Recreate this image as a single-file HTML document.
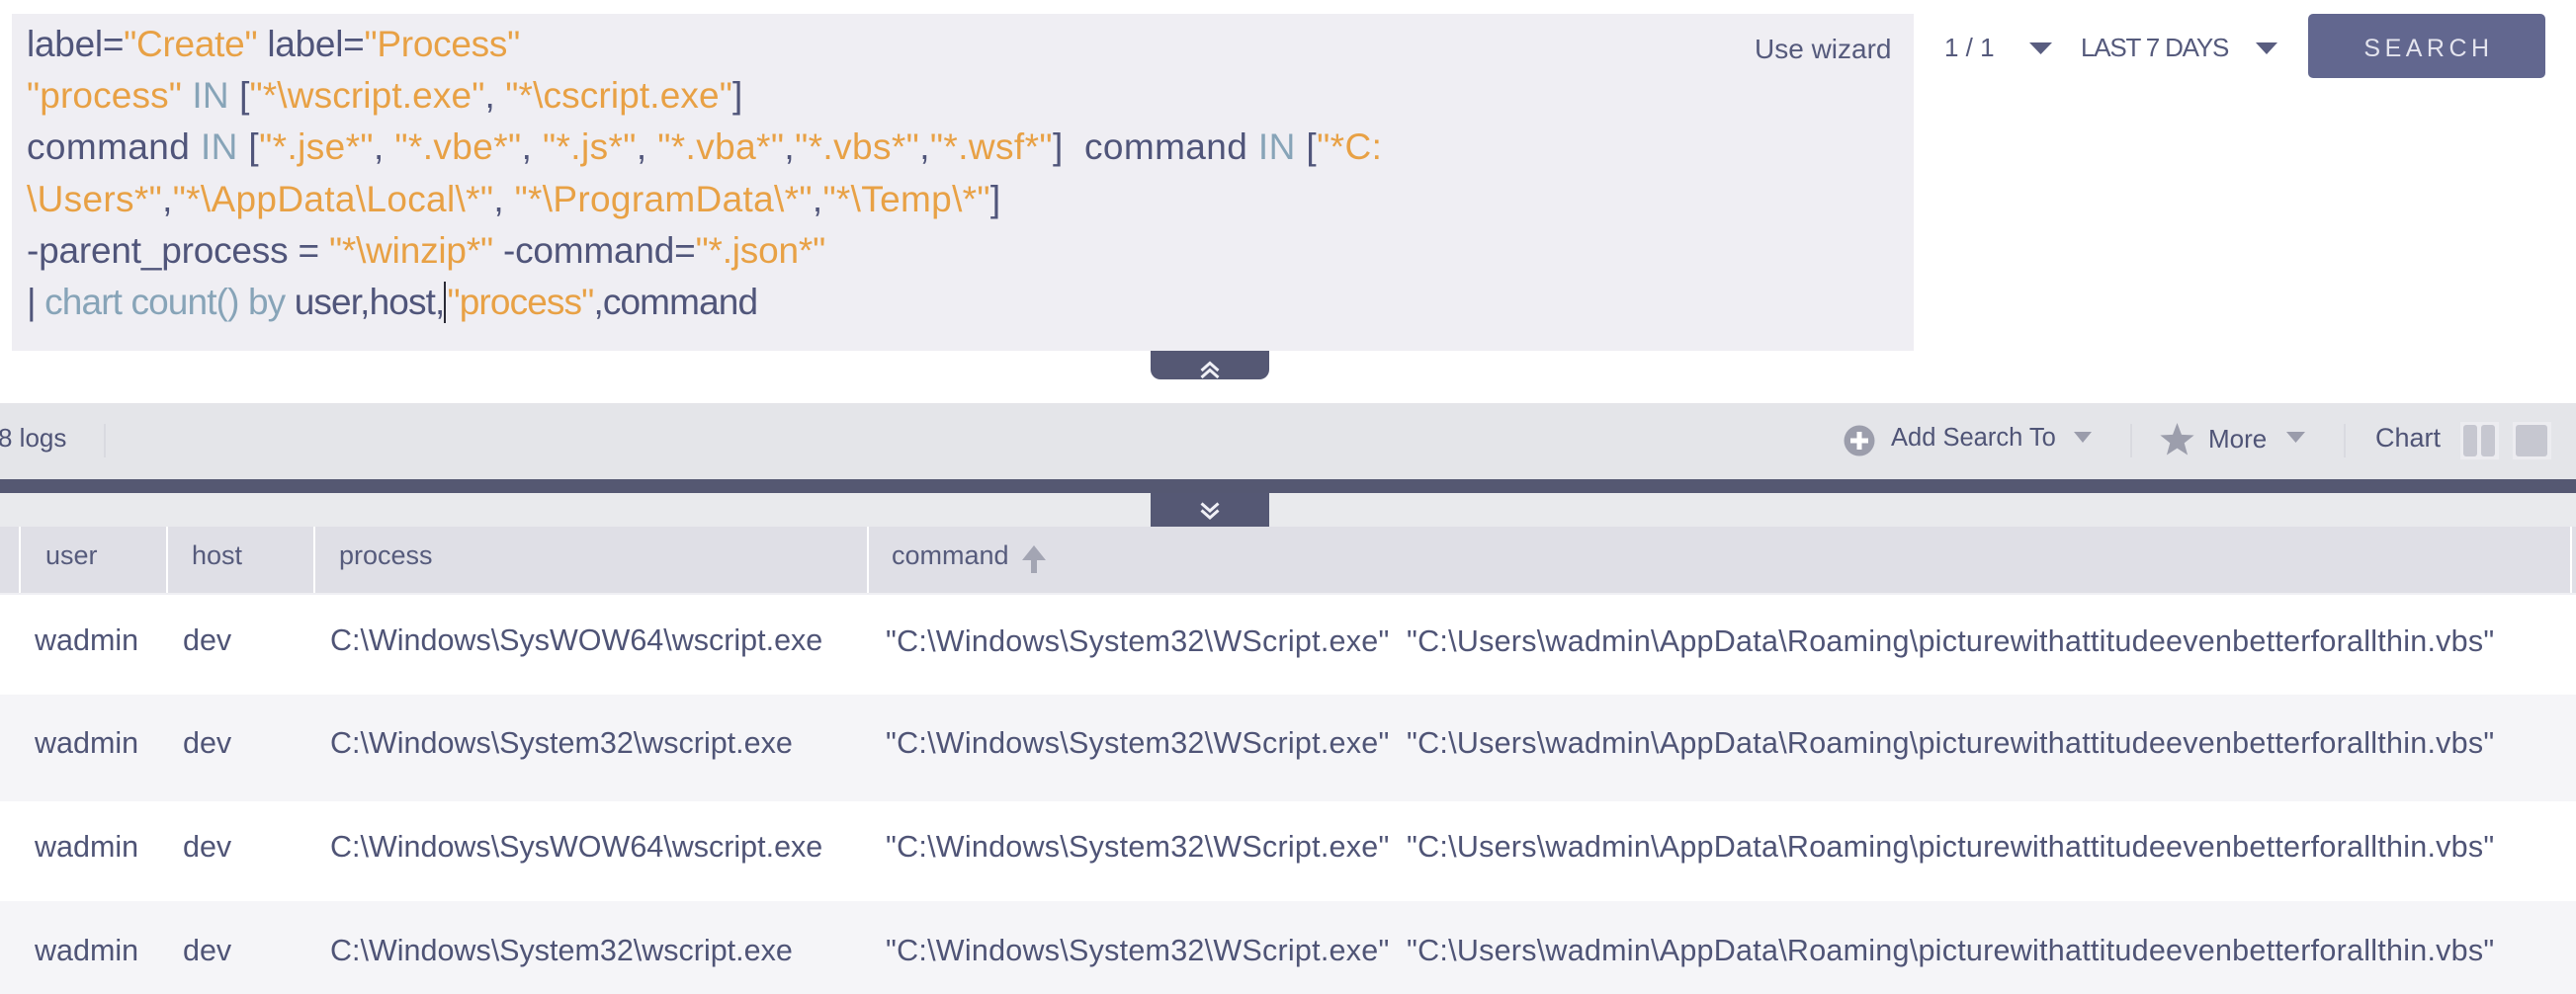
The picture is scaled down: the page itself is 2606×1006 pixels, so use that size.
<!DOCTYPE html>
<html>
<head>
<meta charset="utf-8">
<style>
  html, body { margin:0; padding:0; }
  body { width:2606px; height:1006px; position:relative; overflow:hidden; background:#ffffff;
         font-family:"Liberation Sans", Arial, sans-serif; color:#50557a; }
  .abs { position:absolute; white-space:pre; }
  .q { position:absolute; left:27px; font-size:37px; line-height:52.2px; height:52.2px; white-space:pre; color:#50557a; }
  .o { color:#e8a145; }
  .t { color:#87a4b8; }
  .cur { display:inline-block; width:0; height:42px; border-left:2px solid #2a2a35; vertical-align:-9px; margin-right:1px; }
  .tb { position:absolute; font-size:25.5px; line-height:26px; white-space:pre; color:#4f5476; }
  .hd { position:absolute; font-size:27px; line-height:27px; white-space:pre; color:#565b7c; top:549px; }
  .rw { position:absolute; font-size:30.5px; line-height:30px; white-space:pre; color:#4f5476; }
</style>
</head>
<body>

<!-- Query box -->
<div style="position:absolute;left:12px;top:14px;width:1924px;height:341px;background:#efeef3;"></div>

<div class="q" style="top:19px;letter-spacing:-0.27px;">label=<span class="o">"Create"</span> label=<span class="o">"Process"</span></div>
<div class="q" style="top:71.2px;letter-spacing:0.13px;"><span class="o">"process"</span> <span class="t">IN</span> [<span class="o">"*\wscript.exe"</span>, <span class="o">"*\cscript.exe"</span>]</div>
<div class="q" style="top:123.4px;letter-spacing:0.4px;">command <span class="t">IN</span> [<span class="o">"*.jse*"</span>, <span class="o">"*.vbe*"</span>, <span class="o">"*.js*"</span>, <span class="o">"*.vba*"</span>,<span class="o">"*.vbs*"</span>,<span class="o">"*.wsf*"</span>]  command <span class="t">IN</span> [<span class="o">"*C:</span></div>
<div class="q" style="top:175.6px;letter-spacing:0.33px;"><span class="o">\Users*"</span>,<span class="o">"*\AppData\Local\*"</span>, <span class="o">"*\ProgramData\*"</span>,<span class="o">"*\Temp\*"</span>]</div>
<div class="q" style="top:227.8px;letter-spacing:-0.2px;">-parent_process = <span class="o">"*\winzip*"</span> -command=<span class="o">"*.json*"</span></div>
<div class="q" style="top:280px;letter-spacing:-0.87px;">| <span class="t">chart count() by</span> user,host,<span class="cur"></span><span class="o">"process"</span>,command</div>

<div class="abs" style="left:1775px;top:36px;font-size:28px;line-height:28px;color:#555a7c;">Use wizard</div>

<!-- Top right controls -->
<div class="abs" style="left:1967px;top:35px;font-size:26px;line-height:26px;color:#555a7c;">1 / 1</div>
<div class="abs" style="left:2105px;top:35px;font-size:26px;line-height:26px;letter-spacing:-1.2px;color:#555a7c;">LAST 7 DAYS</div>
<div style="position:absolute;left:2335px;top:14px;width:240px;height:65px;background:#62678f;border-radius:5px;"></div>
<div class="abs" style="left:2335px;width:244px;top:36px;font-size:25px;line-height:26px;letter-spacing:4.5px;color:#e4e4ee;text-align:center;">SEARCH</div>

<!-- collapse tab up -->
<div style="position:absolute;left:1164px;top:355px;width:120px;height:29px;background:#555874;border-radius:0 0 10px 10px;"></div>

<!-- toolbar -->
<div style="position:absolute;left:0;top:408px;width:2606px;height:77px;background:#e4e5e9;"></div>
<div class="tb" style="left:-2px;top:430px;font-size:26px;">8 logs</div>
<div style="position:absolute;left:105px;top:429px;width:2px;height:34px;background:#d9dae0;"></div>
<div class="tb" style="left:1913px;top:430px;">Add Search To</div>
<div style="position:absolute;left:2155px;top:429px;width:2px;height:34px;background:#d9dae0;"></div>
<div class="tb" style="left:2234px;top:431px;font-size:26px;">More</div>
<div style="position:absolute;left:2371px;top:429px;width:2px;height:34px;background:#d9dae0;"></div>
<div class="tb" style="left:2403px;top:430px;font-size:27px;">Chart</div>
<!-- chart icons -->
<div style="position:absolute;left:2489px;top:427px;width:39px;height:38px;background:#ececf0;"></div>
<div style="position:absolute;left:2492px;top:430px;width:14px;height:32px;background:#c6c7d0;border-radius:3px;"></div>
<div style="position:absolute;left:2510px;top:430px;width:14px;height:32px;background:#c6c7d0;border-radius:3px;"></div>
<div style="position:absolute;left:2542px;top:427px;width:39px;height:38px;background:#ececf0;"></div>
<div style="position:absolute;left:2545px;top:430px;width:32px;height:32px;background:#c6c7d0;border-radius:3px;"></div>

<!-- dark bar + lower band -->
<div style="position:absolute;left:0;top:485px;width:2606px;height:14px;background:#555872;"></div>
<div style="position:absolute;left:0;top:499px;width:2606px;height:34px;background:#e9eaed;"></div>
<div style="position:absolute;left:1164px;top:499px;width:120px;height:34px;background:#555874;"></div>

<!-- table header -->
<div style="position:absolute;left:0;top:533px;width:2606px;height:67px;background:#dfdfe6;"></div>
<div style="position:absolute;left:19px;top:533px;width:2px;height:67px;background:#ffffff;"></div>
<div style="position:absolute;left:168px;top:533px;width:2px;height:67px;background:#ffffff;"></div>
<div style="position:absolute;left:317px;top:533px;width:2px;height:67px;background:#ffffff;"></div>
<div style="position:absolute;left:877px;top:533px;width:2px;height:67px;background:#ffffff;"></div>
<div style="position:absolute;left:2600px;top:533px;width:2px;height:67px;background:#ffffff;"></div>
<div style="position:absolute;left:0;top:600px;width:2606px;height:2px;background:#efeff3;"></div>
<div class="hd" style="left:46px;">user</div>
<div class="hd" style="left:194px;">host</div>
<div class="hd" style="left:343px;">process</div>
<div class="hd" style="left:902px;">command</div>

<!-- rows -->
<div style="position:absolute;left:0;top:703px;width:2606px;height:108px;background:#f5f5f8;"></div>
<div style="position:absolute;left:0;top:912px;width:2606px;height:94px;background:#f5f5f8;"></div>

<div class="rw" style="left:35px;top:633px;">wadmin</div>
<div class="rw" style="left:185px;top:633px;">dev</div>
<div class="rw" style="left:334px;top:633px;">C:\Windows\SysWOW64\wscript.exe</div>
<div class="rw" style="left:896px;top:634px;letter-spacing:0.25px;">"C:\Windows\System32\WScript.exe"  "C:\Users\wadmin\AppData\Roaming\picturewithattitudeevenbetterforallthin.vbs"</div>

<div class="rw" style="left:35px;top:737px;">wadmin</div>
<div class="rw" style="left:185px;top:737px;">dev</div>
<div class="rw" style="left:334px;top:737px;">C:\Windows\System32\wscript.exe</div>
<div class="rw" style="left:896px;top:737px;letter-spacing:0.25px;">"C:\Windows\System32\WScript.exe"  "C:\Users\wadmin\AppData\Roaming\picturewithattitudeevenbetterforallthin.vbs"</div>

<div class="rw" style="left:35px;top:842px;">wadmin</div>
<div class="rw" style="left:185px;top:842px;">dev</div>
<div class="rw" style="left:334px;top:842px;">C:\Windows\SysWOW64\wscript.exe</div>
<div class="rw" style="left:896px;top:842px;letter-spacing:0.25px;">"C:\Windows\System32\WScript.exe"  "C:\Users\wadmin\AppData\Roaming\picturewithattitudeevenbetterforallthin.vbs"</div>

<div class="rw" style="left:35px;top:947px;">wadmin</div>
<div class="rw" style="left:185px;top:947px;">dev</div>
<div class="rw" style="left:334px;top:947px;">C:\Windows\System32\wscript.exe</div>
<div class="rw" style="left:896px;top:947px;letter-spacing:0.25px;">"C:\Windows\System32\WScript.exe"  "C:\Users\wadmin\AppData\Roaming\picturewithattitudeevenbetterforallthin.vbs"</div>

<!-- shapes overlay -->
<svg style="position:absolute;left:0;top:0;" width="2606" height="1006" viewBox="0 0 2606 1006">
  <!-- top dropdown triangles -->
  <polygon points="2053,43 2076,43 2064.5,55" fill="#595d80"/>
  <polygon points="2282,43 2304,43 2293,55" fill="#595d80"/>
  <!-- chevrons up -->
  <polyline points="1215.5,375 1224,367.5 1232.5,375" fill="none" stroke="#f0f0f6" stroke-width="3"/>
  <polyline points="1215.5,382 1224,374.5 1232.5,382" fill="none" stroke="#f0f0f6" stroke-width="3"/>
  <!-- chevrons down -->
  <polyline points="1215.5,509.5 1224,517 1232.5,509.5" fill="none" stroke="#f0f0f6" stroke-width="3"/>
  <polyline points="1215.5,516.5 1224,524 1232.5,516.5" fill="none" stroke="#f0f0f6" stroke-width="3"/>
  <!-- plus circle -->
  <circle cx="1881" cy="446" r="15.5" fill="#9c9eac"/>
  <rect x="1872" y="443.5" width="18" height="5" fill="#ffffff"/>
  <rect x="1878.5" y="437" width="5" height="18" fill="#ffffff"/>
  <!-- dropdown triangles -->
  <polygon points="2098,437 2116,437 2107,448" fill="#9a9cab"/>
  <polygon points="2313,437 2332,437 2322.5,448" fill="#9a9cab"/>
  <!-- star -->
  <polygon points="2202.5,428 2206.97,439.85 2219.62,440.44 2209.73,448.35 2213.08,460.56 2202.5,453.6 2191.92,460.56 2195.27,448.35 2185.38,440.44 2198.03,439.85" fill="#9c9eac"/>
  <!-- sort arrow -->
  <rect x="1043" y="564" width="6" height="16" fill="#a3a5b3"/>
  <polygon points="1034,567 1046,552 1058,567" fill="#a3a5b3"/>
</svg>

</body>
</html>
